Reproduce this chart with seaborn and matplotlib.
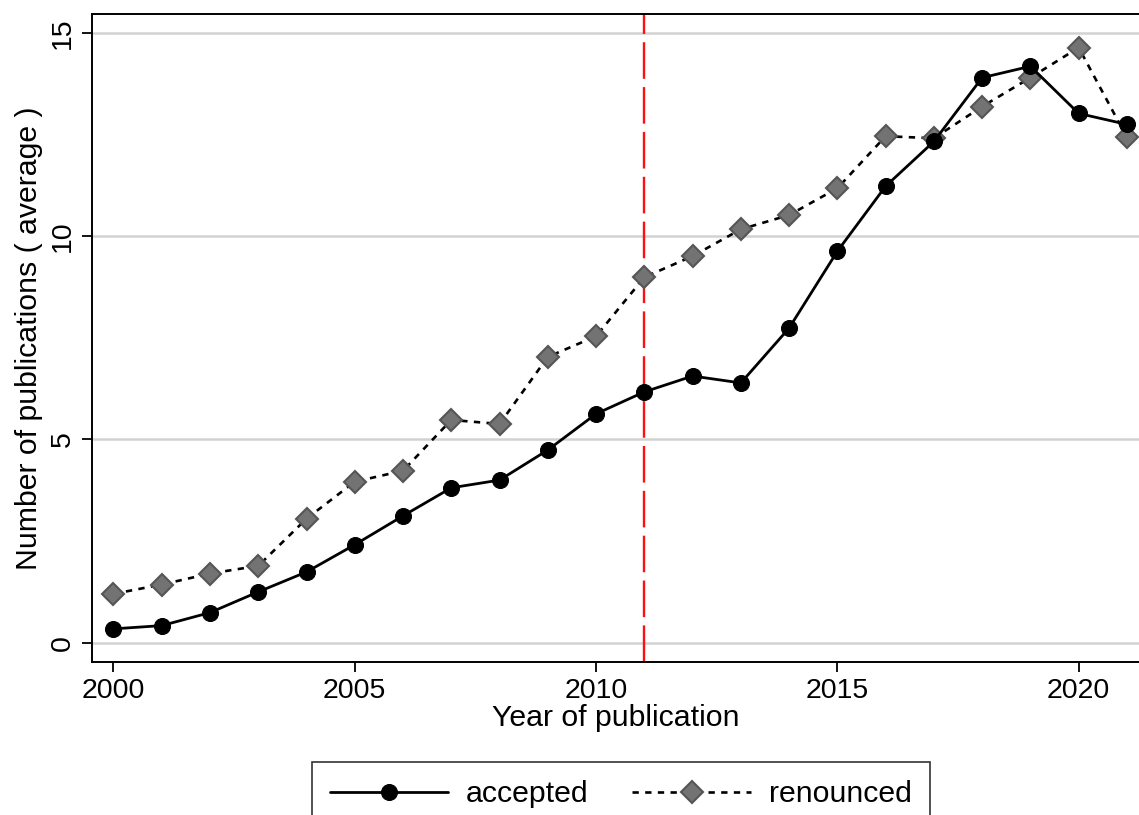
import numpy as np
import pandas as pd
import matplotlib
matplotlib.use("Agg")
import matplotlib.pyplot as plt
import seaborn as sns

years = list(range(2000, 2022))
accepted = [0.34, 0.42, 0.74, 1.25, 1.74, 2.41, 3.12, 3.81, 4.00, 4.74, 5.63,
            6.17, 6.56, 6.39, 7.74, 9.63, 11.23, 12.33, 13.90, 14.18, 13.02, 12.75]
renounced = [1.20, 1.43, 1.70, 1.89, 3.05, 3.96, 4.23, 5.48, 5.38, 7.03, 7.54,
             8.99, 9.51, 10.17, 10.52, 11.18, 12.46, 12.41, 13.19, 13.90, 14.64, 12.43]
cutoff_year = 2011

df = pd.DataFrame({"year": years, "accepted": accepted, "renounced": renounced})

sns.set_theme(style="white")
plt.rcParams['font.family'] = ['Liberation Sans', 'DejaVu Sans']
plt.rcParams['text.color'] = 'black'
plt.rcParams['axes.labelcolor'] = 'black'
plt.rcParams['xtick.color'] = 'black'
plt.rcParams['ytick.color'] = 'black'

FS = 20.5
LFS = 21.8

fig = plt.figure(figsize=(11.39, 8.15), dpi=100)
ax = fig.add_axes([0.081, 0.188, 0.919, 0.795])

# gridlines
for yv in [0, 5, 10, 15]:
    ax.axhline(yv, color='#d2d2d2', lw=1.8, zorder=0)

ax.axvline(cutoff_year, color='#ff1010', lw=1.7, ls=(0, (15.5, 3.5)), zorder=1)

sns.lineplot(data=df, x="year", y="renounced", ax=ax, color='black', lw=1.9,
             ls=(0, (2.4, 2.4)), marker='D', markersize=11, markerfacecolor='#737373',
             markeredgecolor='#555555', markeredgewidth=1.5, label='renounced', zorder=3)
sns.lineplot(data=df, x="year", y="accepted", ax=ax, color='black', lw=2.0,
             marker='o', markersize=11.5, markerfacecolor='black',
             markeredgecolor='black', label='accepted', zorder=4)

ax.set_xlim(1999.56, 2021.25)
ax.set_ylim(-0.47, 15.47)
ax.set_xticks([2000, 2005, 2010, 2015, 2020])
ax.set_yticks([0, 5, 10, 15])
ax.tick_params(axis='both', direction='out', length=7, width=1.3, color='black',
               labelsize=FS, bottom=True, left=True, pad=5)
ax.tick_params(axis='y', labelrotation=90)
for lab in ax.get_yticklabels():
    lab.set_va('center')
ax.set_xlabel("Year of publication", fontsize=LFS, labelpad=0)
ax.set_ylabel("Number of publications ( average )", fontsize=LFS, labelpad=5)

for s in ['left', 'bottom', 'top']:
    ax.spines[s].set_color('black')
    ax.spines[s].set_linewidth(1.4)
ax.spines['right'].set_visible(False)

handles, labels = ax.get_legend_handles_labels()
order = [labels.index('accepted'), labels.index('renounced')]
leg = ax.legend([handles[i] for i in order], [labels[i] for i in order],
                loc='upper left', bbox_to_anchor=(0.2095, -0.155), ncol=2,
                fontsize=LFS, frameon=True, fancybox=False, edgecolor='black',
                handlelength=3.9, handletextpad=0.6, columnspacing=1.45,
                borderpad=0.6, borderaxespad=0)
leg.get_frame().set_linewidth(1.2)

fig.savefig("out.png", dpi=100, facecolor='white')
